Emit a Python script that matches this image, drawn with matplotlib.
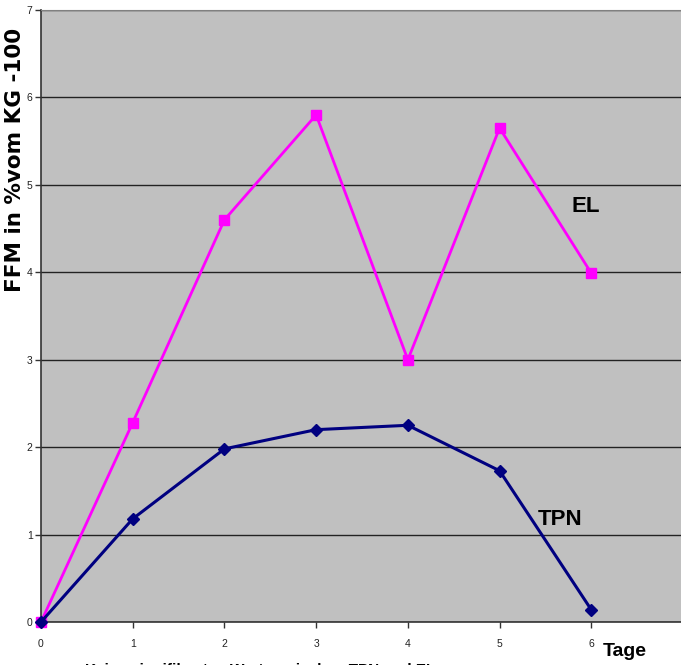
import matplotlib
matplotlib.use("Agg")
import matplotlib.pyplot as plt

# values
tage = [0, 1, 2, 3, 4, 5, 6]
el = [0.0, 2.28, 4.60, 5.80, 3.00, 5.65, 3.99]
tpn = [0.0, 1.18, 1.98, 2.20, 2.25, 1.73, 0.14]
yticks = [0, 1, 2, 3, 4, 5, 6, 7]
xticks = [0, 1, 2, 3, 4, 5, 6, 7]

sans = ["Liberation Sans", "DejaVu Sans"]

fig = plt.figure(figsize=(6.81, 6.65), dpi=100)
ax = fig.add_axes([41 / 681, 1 - 622 / 665, 642 / 681, 612 / 665])
ax.set_facecolor("#c0c0c0")

ax.plot(tage, el, color="#ff00ff", lw=2, marker="s", ms=7.5, zorder=3, clip_on=False)
ax.plot(tage, tpn, color="#000080", lw=2.2, marker="D", ms=6.5, zorder=3, clip_on=False)

ax.set_xlim(0, 7)
ax.set_ylim(0, 7)
ax.set_xticks(xticks)
ax.set_yticks(yticks)
ax.set_xticklabels([str(t) for t in xticks], family=sans, fontsize=7.5, color="#222222")
ax.set_yticklabels([str(t) for t in yticks], family=sans, fontsize=7.5, color="#222222")
ax.tick_params(axis="both", direction="out", length=4, width=1, color="#333333", pad=8)
ax.tick_params(axis="y", pad=2)
ax.grid(axis="y", color="#222222", lw=1)
ax.set_axisbelow(True)
for side in ["top", "right"]:
    ax.spines[side].set_color("#808080")
for side in ["left", "bottom"]:
    ax.spines[side].set_color("#333333")
    ax.spines[side].set_linewidth(1.2)

fig.text(15 / 681, 1 - 160 / 665, "FFM in %vom KG -100", rotation=90, ha="center", va="center",
         fontsize=15.5, fontweight="bold", family=["DejaVu Sans"])
ax.text(5.94, 4.75, "EL", fontsize=16, fontweight="bold", family=sans, ha="center", va="center")
ax.text(5.66, 1.17, "TPN", fontsize=16, fontweight="bold", family=sans, ha="center", va="center")
fig.text(625 / 681, 1 - 651 / 665, "Tage", fontsize=14, fontweight="bold", family=sans,
         ha="center", va="center")
fig.text(85 / 681, 1 - 670 / 665, "Keine signifikanten Werte zwischen TPN und EL", fontsize=11,
         fontweight="bold", family=sans, ha="left", va="center")

fig.savefig("out.png", dpi=100)
